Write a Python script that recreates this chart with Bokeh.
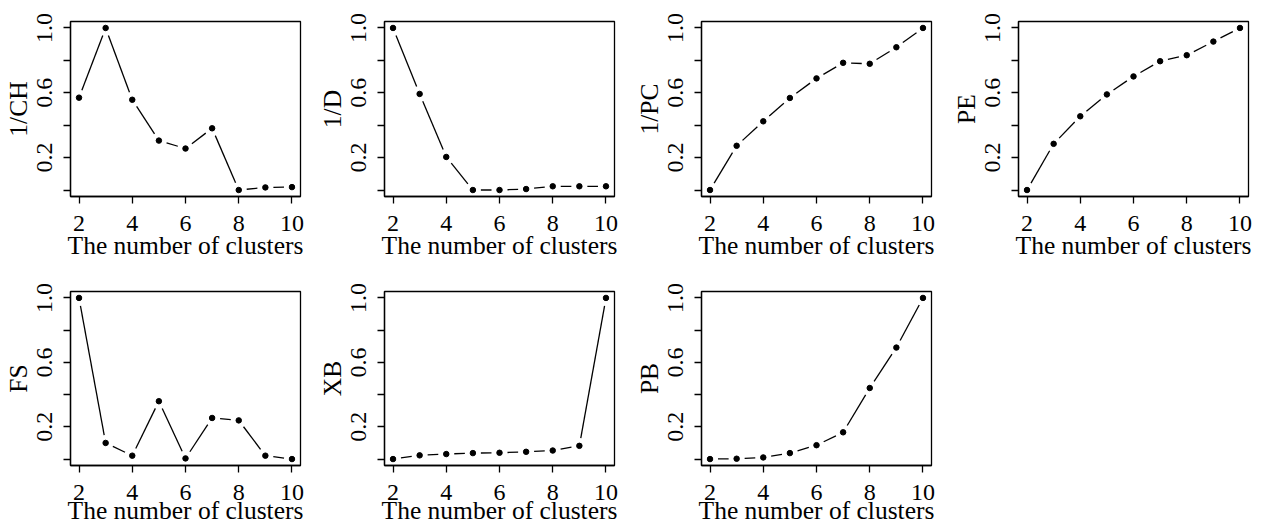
import math
from bokeh.plotting import figure
from bokeh.models import Range1d, FixedTicker, PrintfTickFormatter
from bokeh.layouts import column, row
from bokeh.embed import file_html
from bokeh.resources import INLINE

# ---------------- data ----------------
clusters = [2, 3, 4, 5, 6, 7, 8, 9, 10]
ch_inv = [0.57, 1.0, 0.557, 0.305, 0.256, 0.381, 0.0, 0.016, 0.018]
d_inv = [1.0, 0.593, 0.204, 0.0, 0.0, 0.006, 0.023, 0.023, 0.023]
pc_inv = [0.0, 0.273, 0.424, 0.568, 0.689, 0.785, 0.779, 0.881, 1.0]
pe = [0.0, 0.285, 0.455, 0.590, 0.701, 0.795, 0.832, 0.916, 1.0]
fs = [1.0, 0.100, 0.021, 0.359, 0.004, 0.255, 0.240, 0.021, 0.0]
xb = [0.0, 0.023, 0.031, 0.037, 0.039, 0.045, 0.053, 0.082, 1.0]
pb = [0.0, 0.002, 0.010, 0.037, 0.086, 0.166, 0.441, 0.692, 1.0]

y_names = ["1/CH", "1/D", "1/PC", "PE", "FS", "XB", "PB"]
x_title = "The number of clusters"
x_ticks = [2, 4, 6, 8, 10]
y_label_ticks = [0.2, 0.6, 1.0]
y_plain_ticks = [0.0, 0.4, 0.8]

# ---------------- style / layout ----------------
FONT = "Liberation Serif"
TICK_SIZE = "24px"
LABEL_SIZE = "25.5px"
X0, X1 = 1.68, 10.32
Y0, Y1 = -0.04, 1.04
GAP = 8.0  # px gap between line and point (R type="b")

FRAME_W = 230
FRAME_H = 175
LEFT = 70
col_widths = [314, 317, 317, 320]
TOP1, TOP2 = 21, 28
H1, H2 = 263, 264


def make_panel(label, values, width, height, top, xlab_standoff):
    right = width - LEFT - FRAME_W
    p = figure(width=width, height=height, output_backend="svg",
               toolbar_location=None,
               x_range=Range1d(X0, X1), y_range=Range1d(Y0, Y1),
               min_border_left=LEFT, min_border_right=right,
               min_border_top=top, min_border_bottom=height - top - FRAME_H)
    p.grid.visible = False
    p.outline_line_color = "black"
    p.outline_line_width = 1.3
    p.background_fill_color = "white"
    p.border_fill_color = "white"

    # connecting segments with gaps around points
    sx = FRAME_W / (X1 - X0)
    sy = FRAME_H / (Y1 - Y0)
    xs0, ys0, xs1, ys1 = [], [], [], []
    for i in range(len(clusters) - 1):
        ddx = clusters[i + 1] - clusters[i]
        ddy = values[i + 1] - values[i]
        L = math.hypot(ddx * sx, ddy * sy)
        if L > 2 * GAP:
            f = GAP / L
            xs0.append(clusters[i] + ddx * f)
            ys0.append(values[i] + ddy * f)
            xs1.append(clusters[i + 1] - ddx * f)
            ys1.append(values[i + 1] - ddy * f)
    p.segment(xs0, ys0, xs1, ys1, line_color="black", line_width=1.3)
    p.scatter(clusters, values, size=5.5, color="black")

    # x axis
    xa = p.xaxis[0]
    xa.ticker = FixedTicker(ticks=x_ticks)
    xa.axis_label = x_title
    # y axis
    ya = p.yaxis[0]
    ya.ticker = FixedTicker(ticks=y_label_ticks, minor_ticks=y_plain_ticks)
    ya.formatter = PrintfTickFormatter(format="%.1f")
    ya.axis_label = label
    ya.major_label_orientation = "vertical"
    for ax in (xa, ya):
        ax.axis_line_color = "black"
        ax.axis_line_width = 1.3
        ax.major_tick_line_color = "black"
        ax.minor_tick_line_color = "black"
        ax.major_tick_line_width = 1.3
        ax.minor_tick_line_width = 1.3
        ax.major_tick_out = 7
        ax.major_tick_in = 0
        ax.minor_tick_out = 7
        ax.minor_tick_in = 0
        ax.major_label_text_font = FONT
        ax.major_label_text_font_size = TICK_SIZE
        ax.major_label_text_color = "black"
        ax.axis_label_text_font = FONT
        ax.axis_label_text_font_size = LABEL_SIZE
        ax.axis_label_text_font_style = "normal"
        ax.axis_label_text_color = "black"
    xa.minor_tick_line_color = None
    xa.major_label_standoff = 12
    xa.axis_label_standoff = xlab_standoff
    ya.major_label_standoff = 11
    ya.axis_label_standoff = 2
    return p


series = [ch_inv, d_inv, pc_inv, pe, fs, xb, pb]
row1 = [make_panel(y_names[i], series[i], col_widths[i], H1, TOP1, -3) for i in range(4)]
row2 = [make_panel(y_names[i], series[i], col_widths[i - 4], H2, TOP2, -7) for i in range(4, 7)]

layout = column(row(*row1), row(*row2))
open("out.html", "w").write(file_html(layout, INLINE))
